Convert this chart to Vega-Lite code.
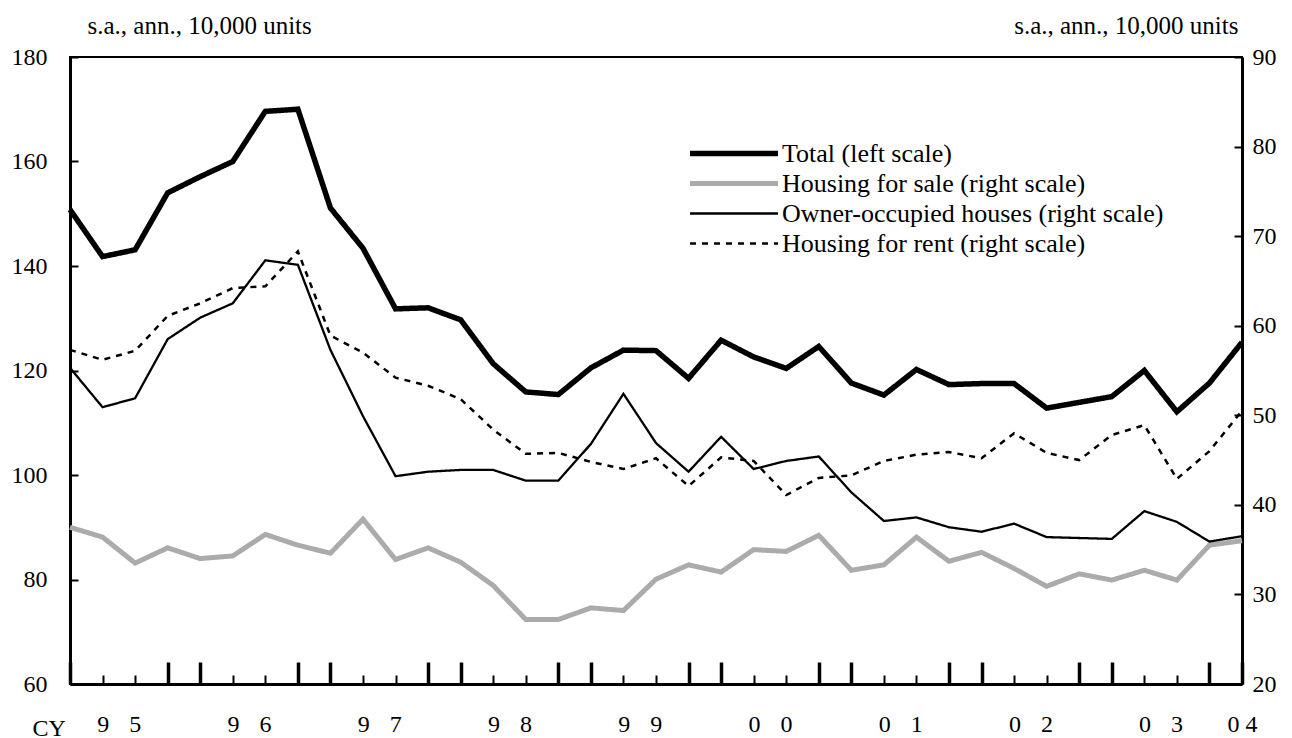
{
  "$schema": "https://vega.github.io/schema/vega-lite/v6.json",
  "width": 1172,
  "height": 627,
  "autosize": {"type": "none"},
  "padding": {"left": 70, "top": 57, "right": 50, "bottom": 54},
  "background": "white",
  "config": {
    "view": {"stroke": "black", "strokeWidth": 2},
    "font": "Liberation Serif",
    "axis": {
      "domainColor": "black",
      "domainWidth": 3,
      "tickColor": "black",
      "labelColor": "black",
      "titleColor": "black",
      "labelFont": "Liberation Serif",
      "titleFont": "Liberation Serif",
      "labelFontSize": 24,
      "titleFontWeight": "normal",
      "grid": false
    },
    "legend": {
      "orient": "none", "legendX": 617, "legendY": 84, "title": null,
      "symbolType": "stroke", "symbolSize": 7744, "clipHeight": 25,
      "labelFontSize": 26, "labelFont": "Liberation Serif", "labelColor": "black",
      "labelOffset": 1, "rowPadding": 3, "labelLimit": 600
    }
  },
  "data": {
    "values": [
      {"t": 0, "total": 150.8, "sale": 37.5, "owner": 55.3, "rent": 57.3},
      {"t": 1, "total": 141.8, "sale": 36.4, "owner": 50.9, "rent": 56.2},
      {"t": 2, "total": 143.1, "sale": 33.5, "owner": 51.9, "rent": 57.2},
      {"t": 3, "total": 154.0, "sale": 35.2, "owner": 58.5, "rent": 61.1},
      {"t": 4, "total": 157.1, "sale": 34.0, "owner": 60.9, "rent": 62.5},
      {"t": 5, "total": 160.0, "sale": 34.3, "owner": 62.5, "rent": 64.2},
      {"t": 6, "total": 169.6, "sale": 36.7, "owner": 67.3, "rent": 64.4},
      {"t": 7, "total": 170.0, "sale": 35.5, "owner": 66.8, "rent": 68.3},
      {"t": 8, "total": 151.1, "sale": 34.6, "owner": 57.3, "rent": 58.9},
      {"t": 9, "total": 143.4, "sale": 38.4, "owner": 49.9, "rent": 57.0},
      {"t": 10, "total": 131.8, "sale": 33.9, "owner": 43.2, "rent": 54.2},
      {"t": 11, "total": 132.0, "sale": 35.2, "owner": 43.7, "rent": 53.3},
      {"t": 12, "total": 129.7, "sale": 33.6, "owner": 43.9, "rent": 51.8},
      {"t": 13, "total": 121.3, "sale": 31.0, "owner": 43.9, "rent": 48.4},
      {"t": 14, "total": 115.9, "sale": 27.2, "owner": 42.7, "rent": 45.7},
      {"t": 15, "total": 115.4, "sale": 27.2, "owner": 42.7, "rent": 45.8},
      {"t": 16, "total": 120.5, "sale": 28.5, "owner": 46.8, "rent": 44.8},
      {"t": 17, "total": 123.9, "sale": 28.2, "owner": 52.4, "rent": 44.0},
      {"t": 18, "total": 123.8, "sale": 31.7, "owner": 46.9, "rent": 45.2},
      {"t": 19, "total": 118.5, "sale": 33.3, "owner": 43.7, "rent": 42.1},
      {"t": 20, "total": 125.8, "sale": 32.5, "owner": 47.6, "rent": 45.3},
      {"t": 21, "total": 122.6, "sale": 35.0, "owner": 44.0, "rent": 44.9},
      {"t": 22, "total": 120.4, "sale": 34.8, "owner": 44.9, "rent": 41.1},
      {"t": 23, "total": 124.6, "sale": 36.6, "owner": 45.4, "rent": 43.0},
      {"t": 24, "total": 117.6, "sale": 32.7, "owner": 41.4, "rent": 43.3},
      {"t": 25, "total": 115.3, "sale": 33.3, "owner": 38.2, "rent": 44.9},
      {"t": 26, "total": 120.2, "sale": 36.4, "owner": 38.6, "rent": 45.6},
      {"t": 27, "total": 117.3, "sale": 33.7, "owner": 37.5, "rent": 45.9},
      {"t": 28, "total": 117.5, "sale": 34.7, "owner": 37.0, "rent": 45.2},
      {"t": 29, "total": 117.5, "sale": 32.9, "owner": 37.9, "rent": 48.0},
      {"t": 30, "total": 112.8, "sale": 30.9, "owner": 36.4, "rent": 45.8},
      {"t": 31, "total": 113.9, "sale": 32.3, "owner": 36.3, "rent": 45.0},
      {"t": 32, "total": 115.0, "sale": 31.6, "owner": 36.2, "rent": 47.8},
      {"t": 33, "total": 120.0, "sale": 32.7, "owner": 39.3, "rent": 48.9},
      {"t": 34, "total": 112.1, "sale": 31.6, "owner": 38.1, "rent": 42.9},
      {"t": 35, "total": 117.6, "sale": 35.5, "owner": 35.9, "rent": 46.0},
      {"t": 36, "total": 125.4, "sale": 36.0, "owner": 36.5, "rent": 50.5}
    ]
  },
  "transform": [
    {"fold": ["total", "sale", "owner", "rent"], "as": ["series", "value"]}
  ],
  "encoding": {
    "x": {
      "field": "t",
      "type": "quantitative",
      "scale": {"domain": [0, 36], "nice": false, "zero": false},
      "axis": {
        "values": [0, 1, 1.5, 2, 3, 4, 5, 5.5, 6, 7, 8, 9, 9.5, 10, 11, 12, 13, 13.5, 14, 15, 16, 17, 17.5, 18, 19, 20, 21, 21.5, 22, 23, 24, 25, 25.5, 26, 27, 28, 29, 29.5, 30, 31, 32, 33, 33.5, 34, 35, 36],
        "labelExpr": "datum.value == 1.5 ? '9\u2002\u00a0\u200a5' : datum.value == 5.5 ? '9\u2002\u00a0\u200a6' : datum.value == 9.5 ? '9\u2002\u00a0\u200a7' : datum.value == 13.5 ? '9\u2002\u00a0\u200a8' : datum.value == 17.5 ? '9\u2002\u00a0\u200a9' : datum.value == 21.5 ? '0\u2002\u00a0\u200a0' : datum.value == 25.5 ? '0\u2002\u00a0\u200a1' : datum.value == 29.5 ? '0\u2002\u00a0\u200a2' : datum.value == 33.5 ? '0\u2002\u00a0\u200a3' : datum.value == 36 ? '0\u00a04' : ''",
        "labelFlush": false,
        "labelOverlap": false,
        "labelBaseline": "alphabetic",
        "labelPadding": 69,
        "tickSize": {"condition": {"test": "datum.value % 4 == 0 || datum.value % 4 == 3 || datum.value % 1 != 0", "value": -22}, "value": -9},
        "tickWidth": {"condition": {"test": "datum.value % 4 == 0 || datum.value % 4 == 3", "value": 3.5}, "value": 2},
        "tickOpacity": {"condition": {"test": "datum.value % 1 != 0", "value": 0}, "value": 1},
        "title": "CY",
        "titleFontSize": 24,
        "titleAngle": 0,
        "titleAlign": "left",
        "titleBaseline": "alphabetic",
        "titleX": -38,
        "titleY": 51
      }
    },
    "color": {
      "field": "series",
      "type": "ordinal",
      "scale": {"type": "ordinal", "domain": ["total", "sale", "owner", "rent"], "range": ["black", "#ababab", "black", "black"]},
      "legend": {
        "labelExpr": "datum.label == 'total' ? 'Total (left scale)' : datum.label == 'sale' ? 'Housing for sale (right scale)' : datum.label == 'owner' ? 'Owner-occupied houses (right scale)' : 'Housing for rent (right scale)'"
      }
    },
    "strokeWidth": {
      "field": "series",
      "type": "ordinal",
      "scale": {"type": "ordinal", "domain": ["total", "sale", "owner", "rent"], "range": [5.5, 5, 2.3, 2.5]},
      "legend": {
        "labelExpr": "datum.label == 'total' ? 'Total (left scale)' : datum.label == 'sale' ? 'Housing for sale (right scale)' : datum.label == 'owner' ? 'Owner-occupied houses (right scale)' : 'Housing for rent (right scale)'"
      }
    },
    "strokeDash": {
      "field": "series",
      "type": "ordinal",
      "scale": {"type": "ordinal", "domain": ["total", "sale", "owner", "rent"], "range": [[1, 0], [1, 0], [1, 0], [6, 6]]},
      "legend": {
        "labelExpr": "datum.label == 'total' ? 'Total (left scale)' : datum.label == 'sale' ? 'Housing for sale (right scale)' : datum.label == 'owner' ? 'Owner-occupied houses (right scale)' : 'Housing for rent (right scale)'"
      }
    }
  },
  "layer": [
    {
      "transform": [{"filter": "datum.series != 'total'"}],
      "mark": {"type": "line", "strokeJoin": "miter", "strokeCap": "butt"},
      "encoding": {
        "y": {
          "field": "value",
          "type": "quantitative",
          "scale": {"domain": [20, 90], "nice": false, "zero": false},
          "axis": {
            "orient": "right",
            "values": [20, 30, 40, 50, 60, 70, 80, 90],
            "tickSize": -8,
            "tickWidth": 2,
            "labelPadding": 18,
            "title": "s.a., ann., 10,000 units",
            "titleFontSize": 25,
            "titleAngle": 0,
            "titleAlign": "right",
            "titleBaseline": "alphabetic",
            "titleX": -4,
            "titleY": -24
          }
        }
      }
    },
    {
      "transform": [{"filter": "datum.series == 'total'"}],
      "mark": {"type": "line", "strokeJoin": "miter", "strokeCap": "butt"},
      "encoding": {
        "y": {
          "field": "value",
          "type": "quantitative",
          "scale": {"domain": [60, 180], "nice": false, "zero": false},
          "axis": {
            "orient": "left",
            "values": [60, 80, 100, 120, 140, 160, 180],
            "tickSize": -8,
            "tickWidth": 2,
            "labelPadding": 31,
            "title": "s.a., ann., 10,000 units",
            "titleFontSize": 25,
            "titleAngle": 0,
            "titleAlign": "left",
            "titleBaseline": "alphabetic",
            "titleX": 17,
            "titleY": -24
          }
        }
      }
    }
  ],
  "resolve": {"scale": {"y": "independent"}}
}
